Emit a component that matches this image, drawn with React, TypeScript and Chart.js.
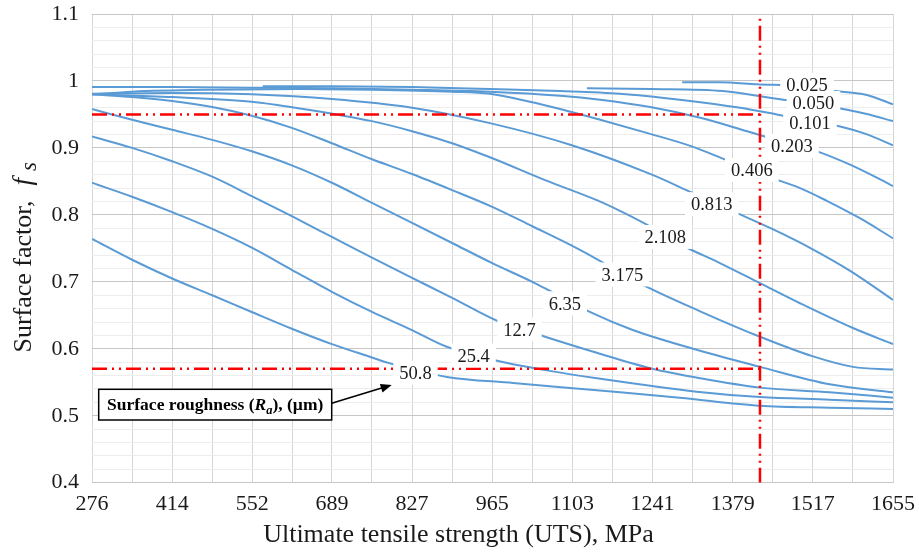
import { useEffect, useRef } from 'react';
import { Chart, registerables } from 'chart.js';

Chart.register(...registerables);

const SERIF = '"Liberation Serif", "Times New Roman", serif';
const CURVE_BLUE = '#5b9bd5';
const GUIDE_RED = '#ff0000';
const INK = '#1a1a1a';

// Axis tick labels: UTS in MPa, surface factor f_s
const utsTickLabels = [276, 414, 552, 689, 827, 965, 1103, 1241, 1379, 1517, 1655];
const fsTickLabels = [0.4, 0.5, 0.6, 0.7, 0.8, 0.9, 1.0, 1.1];

// Surface factor curves, one per surface roughness Ra (µm)
const uts_0025 = [1292, 1357, 1421, 1495, 1543, 1610, 1655];
const fs_0025 = [0.998, 0.998, 0.995, 0.992, 0.986, 0.979, 0.965];

const uts_0050 = [1128, 1237, 1362, 1466, 1518, 1564, 1608, 1655];
const fs_0050 = [0.989, 0.988, 0.985, 0.972, 0.967, 0.959, 0.951, 0.94];

const uts_0101 = [570, 689, 827, 961, 1082, 1185, 1288, 1392, 1455, 1564, 1608, 1655];
const fs_0101 = [0.992, 0.992, 0.991, 0.988, 0.985, 0.981, 0.972, 0.96, 0.95, 0.932, 0.921, 0.904];

const uts_0203 = [276, 414, 551, 689, 827, 961, 1082, 1151, 1237, 1323, 1392, 1426, 1517, 1581, 1633, 1655];
const fs_0203 = [0.991, 0.991, 0.99, 0.989, 0.987, 0.984, 0.978, 0.972, 0.961, 0.945, 0.928, 0.919, 0.897, 0.875, 0.853, 0.843];

const uts_0406 = [276, 345, 483, 634, 758, 896, 961, 1030, 1087, 1151, 1237, 1306, 1362, 1440, 1495, 1541, 1598, 1655];
const fs_0406 = [0.98, 0.984, 0.987, 0.988, 0.987, 0.984, 0.981, 0.969, 0.957, 0.942, 0.921, 0.903, 0.884, 0.857, 0.84, 0.821, 0.795, 0.765];

const uts_0813 = [276, 414, 551, 689, 827, 961, 1102, 1240, 1309, 1378, 1447, 1516, 1584, 1655];
const fs_0813 = [0.981, 0.982, 0.98, 0.973, 0.96, 0.937, 0.904, 0.86, 0.833, 0.806, 0.779, 0.749, 0.715, 0.673];

const uts_2108 = [276, 414, 551, 634, 758, 827, 896, 961, 1056, 1145, 1185, 1232, 1291, 1357, 1426, 1495, 1586, 1655];
const fs_2108 = [0.98, 0.976, 0.969, 0.959, 0.94, 0.925, 0.907, 0.886, 0.852, 0.822, 0.806, 0.785, 0.755, 0.728, 0.698, 0.668, 0.631, 0.607];

const uts_3175 = [276, 345, 414, 483, 551, 620, 689, 758, 827, 896, 965, 1034, 1102, 1145, 1214, 1323, 1426, 1516, 1586, 1655];
const fs_3175 = [0.98, 0.976, 0.97, 0.961, 0.948, 0.93, 0.907, 0.883, 0.861, 0.837, 0.812, 0.783, 0.754, 0.734, 0.7, 0.656, 0.618, 0.589, 0.573, 0.569];

const uts_635 = [276, 345, 414, 483, 551, 620, 689, 758, 827, 896, 965, 1034, 1061, 1133, 1207, 1323, 1426, 1546, 1655];
const fs_635 = [0.958, 0.942, 0.927, 0.912, 0.895, 0.874, 0.848, 0.818, 0.788, 0.758, 0.728, 0.7, 0.688, 0.655, 0.628, 0.597, 0.573, 0.547, 0.535];

const uts_127 = [276, 345, 414, 483, 551, 620, 689, 758, 827, 896, 978, 1056, 1145, 1237, 1323, 1426, 1546, 1655];
const fs_127 = [0.917, 0.9, 0.88, 0.857, 0.828, 0.798, 0.767, 0.736, 0.706, 0.676, 0.64, 0.618, 0.594, 0.571, 0.556, 0.542, 0.535, 0.527];

const uts_254 = [276, 345, 414, 483, 551, 620, 689, 758, 827, 887, 989, 1064, 1145, 1317, 1426, 1546, 1655];
const fs_254 = [0.848, 0.827, 0.804, 0.779, 0.751, 0.718, 0.685, 0.655, 0.628, 0.603, 0.579, 0.567, 0.556, 0.536, 0.528, 0.524, 0.52];

const uts_508 = [276, 345, 414, 483, 551, 620, 689, 758, 786, 887, 1001, 1145, 1288, 1426, 1546, 1655];
const fs_508 = [0.764, 0.733, 0.705, 0.68, 0.655, 0.63, 0.607, 0.587, 0.579, 0.558, 0.549, 0.538, 0.527, 0.515, 0.512, 0.51];

// Inline curve labels (Ra, µm) and where they sit on each curve
const raLabels = ['0.025', '0.050', '0.101', '0.203', '0.406', '0.813', '2.108', '3.175', '6.35', '12.7', '25.4', '50.8'];
const raLabelUts = [1507, 1518, 1512, 1481, 1412, 1343, 1263, 1189, 1090, 1012, 933, 833];
const raLabelFs = [0.994, 0.967, 0.937, 0.903, 0.867, 0.816, 0.767, 0.711, 0.668, 0.629, 0.59, 0.564];

// Worked-example guide lines
const guideUts = 1426;
const guideFsHigh = 0.95;
const guideFsLow = 0.57;

const curveUts = [uts_0025, uts_0050, uts_0101, uts_0203, uts_0406, uts_0813, uts_2108, uts_3175, uts_635, uts_127, uts_254, uts_508];
const curveFs = [fs_0025, fs_0050, fs_0101, fs_0203, fs_0406, fs_0813, fs_2108, fs_3175, fs_635, fs_127, fs_254, fs_508];

// Grid: labelled UTS ticks plus the unlabelled lines halfway between them
const utsGrid: number[] = [];
utsTickLabels.forEach((v, i) => {
  utsGrid.push(v);
  if (i < utsTickLabels.length - 1) utsGrid.push((v + utsTickLabels[i + 1]) / 2);
});
// Grid: major f_s lines every 0.1 with minor lines every 0.02
const fsGrid: number[] = [];
fsTickLabels.forEach((v, i) => {
  fsGrid.push(v);
  if (i < fsTickLabels.length - 1) {
    for (let k = 1; k < 5; k++) fsGrid.push(Math.round((v + k * 0.02) * 1000) / 1000);
  }
});
const isMajorFs = (v: number) => fsTickLabels.some((m) => Math.abs(m - v) < 1e-6);

// Scale paddings are zeroed so the plot area follows layout.padding exactly
const zeroScalePadding = (s: any) => {
  s.paddingLeft = 0;
  s.paddingRight = 0;
  s.paddingTop = 0;
  s.paddingBottom = 0;
};

const labelPlugin = {
  id: 'raLabels',
  afterDatasetsDraw(chart: any) {
    const { ctx, scales } = chart;
    const x = scales.x;
    const y = scales.y;
    ctx.save();
    ctx.font = `18.5px ${SERIF}`;
    ctx.textAlign = 'center';
    ctx.textBaseline = 'alphabetic';
    const pos = raLabels.map((t, i) => ({
      t,
      px: x.getPixelForValue(raLabelUts[i]),
      py: y.getPixelForValue(raLabelFs[i]),
      w: ctx.measureText(t).width,
    }));
    ctx.fillStyle = '#ffffff';
    pos.forEach((p) => ctx.fillRect(p.px - p.w / 2 - 6, p.py - 12, p.w + 12, 24));
    ctx.fillStyle = INK;
    pos.forEach((p) => ctx.fillText(p.t, p.px, p.py + 6.3));
    ctx.restore();
  },
};

const notePlugin = {
  id: 'roughnessNote',
  afterDatasetsDraw(chart: any) {
    const { ctx, chartArea } = chart;
    const L = chartArea.left;
    const T = chartArea.top;
    ctx.save();
    // box
    const bx = L + 6.7;
    const by = T + 375.3;
    const bw = 233;
    const bh = 30.7;
    ctx.fillStyle = '#ffffff';
    ctx.fillRect(bx, by, bw, bh);
    ctx.strokeStyle = '#000000';
    ctx.lineWidth = 1.5;
    ctx.strokeRect(bx, by, bw, bh);

    // rich text: Surface roughness (R_a), (µm)
    const segs = [
      { t: 'Surface roughness (', f: `bold 17.5px ${SERIF}`, dy: 0 },
      { t: 'R', f: `italic bold 17.5px ${SERIF}`, dy: 0 },
      { t: 'a', f: `italic bold 12.5px ${SERIF}`, dy: 3.5 },
      { t: '), (\u00b5m)', f: `bold 17.5px ${SERIF}`, dy: 0 },
    ];
    let total = 0;
    const widths = segs.map((s) => {
      ctx.font = s.f;
      const w = ctx.measureText(s.t).width;
      total += w;
      return w;
    });
    let cx = bx + (bw - total) / 2;
    const base = by + 21;
    ctx.fillStyle = '#000000';
    ctx.textAlign = 'left';
    ctx.textBaseline = 'alphabetic';
    segs.forEach((s, i) => {
      ctx.font = s.f;
      ctx.fillText(s.t, cx, base + s.dy);
      cx += widths[i];
    });

    // arrow to the 50.8 curve label
    const x0 = bx + bw;
    const y0 = T + 389.3;
    const x1 = L + 299.7;
    const y1 = T + 371;
    const ang = Math.atan2(y1 - y0, x1 - x0);
    const head = 11;
    ctx.beginPath();
    ctx.moveTo(x0, y0);
    ctx.lineTo(x1 - Math.cos(ang) * head * 0.8, y1 - Math.sin(ang) * head * 0.8);
    ctx.lineWidth = 1.5;
    ctx.stroke();
    ctx.beginPath();
    ctx.moveTo(x1, y1);
    ctx.lineTo(x1 - head * Math.cos(ang) + 4.5 * Math.sin(ang), y1 - head * Math.sin(ang) - 4.5 * Math.cos(ang));
    ctx.lineTo(x1 - head * Math.cos(ang) - 4.5 * Math.sin(ang), y1 - head * Math.sin(ang) + 4.5 * Math.cos(ang));
    ctx.closePath();
    ctx.fill();
    ctx.restore();
  },
  afterDraw(chart: any) {
    const { ctx, chartArea } = chart;
    ctx.save();
    ctx.fillStyle = INK;
    ctx.textBaseline = 'alphabetic';
    // x-axis title
    ctx.font = `26px ${SERIF}`;
    ctx.textAlign = 'center';
    ctx.fillText('Ultimate tensile strength (UTS), MPa', (chartArea.left + chartArea.right) / 2 - 34, chartArea.bottom + 59);

    // y-axis title with italic f and subscript s
    const cy = (chartArea.top + chartArea.bottom) / 2 + 9;
    ctx.translate(chartArea.left - 61, cy);
    ctx.rotate(-Math.PI / 2);
    ctx.textAlign = 'left';
    const parts = [
      { t: 'Surface factor,  ', f: `26px ${SERIF}`, dy: 0, gap: 2 },
      { t: 'f', f: `italic 27px ${SERIF}`, dy: 0, gap: 7 },
      { t: 's', f: `italic 23px ${SERIF}`, dy: 5, gap: 0 },
    ];
    let tw = 0;
    const pw = parts.map((p) => {
      ctx.font = p.f;
      const w = ctx.measureText(p.t).width + p.gap;
      tw += w;
      return w;
    });
    let px = -tw / 2;
    parts.forEach((p, i) => {
      ctx.font = p.f;
      ctx.fillText(p.t, px, p.dy);
      px += pw[i];
    });
    ctx.restore();
  },
};

export default function App() {
  const canvasRef = useRef<HTMLCanvasElement>(null);

  useEffect(() => {
    const canvas = canvasRef.current;
    if (!canvas) return;

    const guideStyle = {
      borderColor: GUIDE_RED,
      borderWidth: 2.5,
      borderDash: [15, 5, 2, 5, 2, 5],
      pointRadius: 0,
      tension: 0,
      fill: false,
      order: 1,
    };

    const datasets: any[] = [
      { label: 'guide high', data: [{ x: utsTickLabels[0], y: guideFsHigh }, { x: guideUts, y: guideFsHigh }], ...guideStyle },
      { label: 'guide low', data: [{ x: utsTickLabels[0], y: guideFsLow }, { x: guideUts, y: guideFsLow }], ...guideStyle },
      {
        label: 'guide UTS',
        data: [
          { x: guideUts, y: fsTickLabels[0] },
          { x: guideUts, y: fsTickLabels[fsTickLabels.length - 1] },
        ],
        ...guideStyle,
      },
      ...raLabels.map((ra, i) => ({
        label: `Ra ${ra}`,
        data: curveUts[i].map((u, j) => ({ x: u, y: curveFs[i][j] })),
        borderColor: CURVE_BLUE,
        borderWidth: 2,
        pointRadius: 0,
        cubicInterpolationMode: 'monotone',
        fill: false,
        order: 2,
      })),
    ];

    const chart = new Chart(canvas, {
      type: 'line',
      data: { datasets },
      options: {
        responsive: false,
        animation: false,
        events: [],
        layout: { padding: { left: 0, right: 26, top: 14, bottom: 0 } },
        plugins: { legend: { display: false }, tooltip: { enabled: false } },
        scales: {
          x: {
            type: 'linear',
            min: utsTickLabels[0],
            max: utsTickLabels[utsTickLabels.length - 1],
            afterBuildTicks: (s: any) => {
              s.ticks = utsGrid.map((v) => ({ value: v }));
            },
            afterFit: (s: any) => {
              s.height = 70.3;
              zeroScalePadding(s);
            },
            ticks: {
              autoSkip: false,
              maxRotation: 0,
              padding: 8,
              color: INK,
              font: { family: SERIF, size: 22 },
              callback: (v: any) => (utsTickLabels.includes(Number(v)) ? String(v) : ''),
            },
            grid: { color: '#d6d6d6', lineWidth: 1, drawTicks: false },
            border: { display: false },
          },
          y: {
            type: 'linear',
            min: fsTickLabels[0],
            max: fsTickLabels[fsTickLabels.length - 1],
            afterBuildTicks: (s: any) => {
              s.ticks = fsGrid.map((v) => ({ value: v }));
            },
            afterFit: (s: any) => {
              s.width = 92;
              zeroScalePadding(s);
            },
            ticks: {
              autoSkip: false,
              padding: 13,
              color: INK,
              font: { family: SERIF, size: 22 },
              callback: (v: any) => (isMajorFs(Number(v)) ? String(Math.round(Number(v) * 10) / 10) : ''),
            },
            grid: {
              color: (c: any) => (isMajorFs(c.tick.value) ? '#c6c6c6' : '#ededed'),
              lineWidth: 1,
              drawTicks: false,
            },
            border: { display: false },
          },
        },
      } as any,
      plugins: [labelPlugin, notePlugin],
    });

    return () => chart.destroy();
  }, []);

  return (
    <div style={{ position: 'absolute', left: 0, top: 0, width: 919, height: 553, background: '#ffffff' }}>
      <canvas ref={canvasRef} width={919} height={553} style={{ display: 'block' }} />
    </div>
  );
}
